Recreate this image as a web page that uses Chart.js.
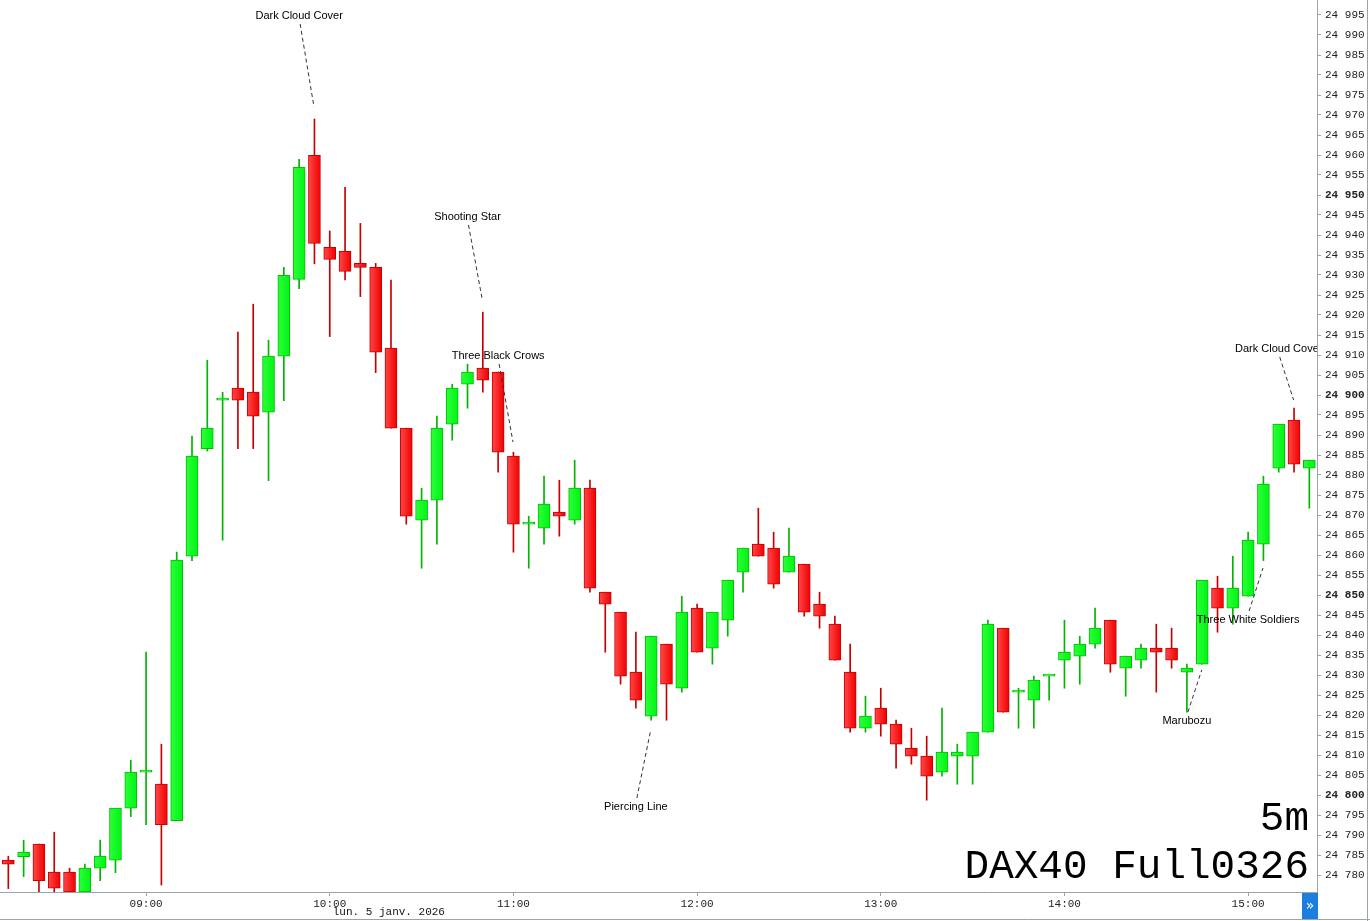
<!DOCTYPE html>
<html>
<head>
<meta charset="utf-8">
<script src="https://cdn.jsdelivr.net/npm/chart.js@4.4.1/dist/chart.umd.min.js"></script>
<style>
  html, body { margin: 0; padding: 0; background: #fff; }
  #dax { display: block; }
</style>
</head>
<body>
<canvas id="dax" width="1370" height="921"></canvas>
<script>
// DAX40 5m candles, 08:15 -> 15:20 (one entry per candle)
const opens = [
  24783.7, 24784.6, 24787.7, 24780.7, 24780.7, 24775.8, 24781.7, 24783.7, 24796.7, 24805.7,
  24802.7, 24793.6, 24859.7, 24886.6, 24898.7, 24901.7, 24900.7, 24895.7, 24909.7, 24928.9,
  24959.9, 24936.9, 24935.9, 24932.9, 24931.9, 24911.7, 24891.7, 24868.7, 24873.7, 24892.7,
  24902.7, 24906.7, 24905.7, 24884.7, 24867.7, 24866.7, 24870.7, 24868.7, 24876.7, 24850.7,
  24845.7, 24830.7, 24819.7, 24837.7, 24826.7, 24846.7, 24836.7, 24843.7, 24855.7, 24862.7,
  24861.7, 24855.7, 24857.7, 24847.7, 24842.7, 24830.7, 24816.7, 24821.7, 24817.7, 24811.7,
  24809.7, 24805.7, 24809.7, 24809.7, 24815.7, 24841.7, 24825.7, 24823.7, 24829.7, 24833.7,
  24834.7, 24837.7, 24843.7, 24831.7, 24833.7, 24836.7, 24836.7, 24830.7, 24832.7, 24851.7,
  24846.7, 24849.7, 24862.7, 24881.7, 24893.7, 24881.7
];
const highs = [
  24784.7, 24788.7, 24787.7, 24790.7, 24781.7, 24782.7, 24788.7, 24796.7, 24808.7, 24835.7,
  24812.7, 24860.7, 24889.7, 24908.7, 24900.7, 24915.7, 24922.7, 24913.7, 24931.9, 24958.9,
  24969.0, 24941.0, 24951.9, 24942.9, 24932.9, 24928.7, 24891.7, 24876.7, 24894.7, 24902.7,
  24907.7, 24920.7, 24905.7, 24885.7, 24869.7, 24879.7, 24878.7, 24883.7, 24878.7, 24850.7,
  24845.7, 24840.7, 24839.7, 24837.7, 24849.7, 24847.7, 24845.7, 24853.7, 24861.7, 24871.7,
  24865.7, 24866.7, 24857.7, 24850.7, 24844.7, 24837.7, 24824.7, 24826.7, 24818.7, 24816.7,
  24814.7, 24821.7, 24812.7, 24815.7, 24843.7, 24841.7, 24826.7, 24829.7, 24829.7, 24843.7,
  24839.7, 24846.7, 24843.7, 24834.7, 24837.7, 24842.7, 24841.7, 24832.7, 24853.7, 24854.7,
  24859.7, 24865.7, 24879.7, 24892.7, 24896.7, 24883.7
];
const lows = [
  24776.6, 24779.6, 24775.8, 24775.5, 24775.8, 24775.8, 24778.6, 24780.6, 24794.6, 24792.6,
  24777.5, 24793.6, 24858.6, 24886.0, 24863.7, 24886.6, 24886.6, 24878.6, 24898.6, 24926.6,
  24932.8, 24914.6, 24928.8, 24924.6, 24905.6, 24891.7, 24867.7, 24856.7, 24862.7, 24888.7,
  24896.7, 24900.7, 24880.7, 24860.7, 24856.7, 24862.7, 24864.7, 24867.7, 24850.7, 24835.7,
  24827.7, 24821.7, 24818.7, 24818.7, 24825.7, 24835.7, 24832.7, 24839.7, 24850.7, 24859.7,
  24851.7, 24855.7, 24844.7, 24841.7, 24833.7, 24815.7, 24815.7, 24814.7, 24806.7, 24807.7,
  24798.7, 24804.7, 24802.7, 24802.7, 24815.7, 24820.7, 24816.7, 24816.7, 24823.7, 24826.7,
  24827.7, 24836.7, 24830.7, 24824.7, 24831.7, 24825.7, 24831.7, 24820.7, 24832.7, 24840.7,
  24842.7, 24849.7, 24858.6, 24880.7, 24880.7, 24871.7
];
const closes = [
  24782.7, 24785.7, 24778.6, 24776.7, 24775.8, 24781.7, 24784.7, 24796.7, 24805.7, 24805.7,
  24792.6, 24858.7, 24884.7, 24891.7, 24898.7, 24898.7, 24894.7, 24909.7, 24929.9, 24956.9,
  24937.9, 24933.9, 24930.9, 24931.9, 24910.7, 24891.7, 24869.7, 24873.7, 24891.7, 24901.7,
  24905.7, 24903.7, 24885.7, 24867.7, 24867.7, 24872.7, 24869.7, 24876.7, 24851.7, 24847.7,
  24829.7, 24823.7, 24839.7, 24827.7, 24845.7, 24835.7, 24845.7, 24853.7, 24861.7, 24859.7,
  24852.7, 24859.7, 24845.7, 24844.7, 24833.7, 24816.7, 24819.7, 24817.7, 24812.7, 24809.7,
  24804.7, 24810.7, 24810.7, 24815.7, 24842.7, 24820.7, 24825.7, 24828.7, 24829.7, 24835.7,
  24837.7, 24841.7, 24832.7, 24834.7, 24836.7, 24835.7, 24833.7, 24831.7, 24853.7, 24846.7,
  24851.7, 24863.7, 24877.7, 24892.7, 24882.7, 24883.7
];

// x axis: hour labels and the candle index they fall on
const hourLabels = ['09:00', '10:00', '11:00', '12:00', '13:00', '14:00', '15:00'];
const hourIndex = [9, 21, 33, 45, 57, 69, 81];

// detected patterns: candle index, price of the label, price the leader points to
const patterns = [
  { text: 'Dark Cloud Cover', idx: 20, labelPrice: 24994.75, tipPrice: 24972.0 },
  { text: 'Shooting Star', idx: 31, labelPrice: 24944.5, tipPrice: 24923.75 },
  { text: 'Three Black Crows', idx: 33, labelPrice: 24909.75, tipPrice: 24888.25 },
  { text: 'Piercing Line', idx: 42, labelPrice: 24797.0, tipPrice: 24816.25 },
  { text: 'Marubozu', idx: 78, labelPrice: 24818.5, tipPrice: 24831.25 },
  { text: 'Three White Soldiers', idx: 82, labelPrice: 24843.75, tipPrice: 24856.75 },
  { text: 'Dark Cloud Cover', idx: 84, labelPrice: 24911.5, tipPrice: 24898.75 }
];

const symbolName = 'DAX40 Full0326';
const timeframe = '5m';
const dateLabel = 'lun. 5 janv. 2026';

const isUp = i => closes[i] >= opens[i];

// gradient fill of each body (lighter on the left side)
function bodyFill(context) {
  if (context.type !== 'data') return '#ff1010';
  const i = context.dataIndex;
  const up = isUp(i);
  const xs = context.chart.scales.x;
  const px = xs ? xs.getPixelForValue(i) : NaN;
  if (!isFinite(px)) return up ? '#08ff1c' : '#ff1010';
  const g = context.chart.ctx.createLinearGradient(px - 6, 0, px + 6, 0);
  if (up) {
    g.addColorStop(0, '#2cff3a');
    g.addColorStop(1, '#00f414');
  } else {
    g.addColorStop(0, '#ff4848');
    g.addColorStop(1, '#f00000');
  }
  return g;
}

const bodies = opens.map((o, i) => ({ x: i, y: [o, closes[i]] }));
const wicks = lows.map((l, i) => ({ x: i, y: [l, highs[i]] }));

const thousands = v => Math.round(v).toString().replace(/\B(?=(\d{3})+(?!\d))/g, ' ');

const decorPlugin = {
  id: 'decor',
  afterDraw(chart) {
    const c = chart.ctx;
    const xs = chart.scales.x;
    const ys = chart.scales.y;
    const area = chart.chartArea;

    // pattern labels with dashed leaders
    c.save();
    c.beginPath();
    c.rect(area.left, area.top, area.right - area.left, area.bottom - area.top);
    c.clip();
    c.font = '11px "Liberation Sans", Arial, sans-serif';
    c.textAlign = 'center';
    c.textBaseline = 'middle';
    patterns.forEach(p => {
      const tx = xs.getPixelForValue(p.idx - 1);
      const ty = ys.getPixelForValue(p.labelPrice);
      const ex = xs.getPixelForValue(p.idx - 0.03);
      const ey = ys.getPixelForValue(p.tipPrice);
      const below = ey < ty;
      c.fillStyle = '#000';
      c.fillText(p.text, tx, ty);
      c.strokeStyle = '#333';
      c.lineWidth = 1;
      c.setLineDash([4, 3]);
      c.beginPath();
      c.moveTo(tx + 1, below ? ty - 9 : ty + 8);
      c.lineTo(ex, ey);
      c.stroke();
    });
    c.restore();

    // symbol + timeframe watermark
    c.save();
    c.fillStyle = '#000';
    c.textAlign = 'right';
    c.textBaseline = 'alphabetic';
    c.font = '41px "Liberation Mono", "Courier New", monospace';
    c.fillText(timeframe, area.right - 8, 830);
    c.fillText(symbolName, area.right - 8, 878);

    // date under the time axis
    c.font = '11px "Liberation Mono", "Courier New", monospace';
    c.textAlign = 'left';
    c.textBaseline = 'middle';
    c.fillStyle = '#111';
    c.fillText(dateLabel, xs.getPixelForValue(21) + 3, 912);

    // outer frame
    c.strokeStyle = '#9aa4ac';
    c.lineWidth = 1;
    c.beginPath();
    c.moveTo(0, 919.5);
    c.lineTo(1370, 919.5);
    c.moveTo(1367.5, 0);
    c.lineTo(1367.5, 921);
    c.stroke();

    // scroll button
    c.fillStyle = '#1c7fe0';
    c.fillRect(1302, 893, 16, 26);
    c.fillStyle = '#fff';
    c.font = '14px "DejaVu Sans", sans-serif';
    c.textAlign = 'center';
    c.fillText('\u00bb', 1310, 906);
    c.restore();
  }
};

const ctx = document.getElementById('dax').getContext('2d');
const myChart = new Chart(ctx, {
  type: 'bar',
  data: {
    datasets: [
      {
        label: 'body',
        data: bodies,
        order: 1,
        grouped: false,
        barThickness: 12,
        minBarLength: 2,
        backgroundColor: bodyFill,
        borderColor: opens.map((o, i) => isUp(i) ? '#00c000' : '#c80000'),
        borderWidth: 1,
        borderSkipped: false
      },
      {
        label: 'wick',
        data: wicks,
        order: 2,
        grouped: false,
        barThickness: 1,
        backgroundColor: opens.map((o, i) => isUp(i) ? '#00b400' : '#c40000'),
        borderWidth: 0
      }
    ]
  },
  options: {
    responsive: false,
    animation: false,
    layout: { padding: 0 },
    plugins: {
      legend: { display: false },
      tooltip: { enabled: false }
    },
    scales: {
      x: {
        type: 'linear',
        min: -0.544,
        max: 85.5,
        offset: false,
        afterBuildTicks: scale => {
          scale.ticks = hourIndex.map(v => ({ value: v }));
        },
        afterFit: scale => {
          scale.height = 29;
          scale.paddingLeft = 0;
          scale.paddingRight = 0;
        },
        ticks: {
          autoSkip: false,
          maxRotation: 0,
          padding: 1,
          color: '#222',
          font: { family: '"Liberation Mono", "Courier New", monospace', size: 11 },
          callback: value => hourLabels[hourIndex.indexOf(value)]
        },
        grid: { drawOnChartArea: false, offset: false, tickLength: 4, color: '#9aa4ac' },
        border: { color: '#9aa4ac' }
      },
      y: {
        position: 'right',
        min: 24775.75,
        max: 24998.75,
        afterFit: scale => {
          scale.width = 53;
          scale.paddingTop = 0;
          scale.paddingBottom = 0;
        },
        ticks: {
          stepSize: 5,
          includeBounds: false,
          autoSkip: false,
          padding: 4,
          color: '#222',
          font: context => ({
            family: '"Liberation Mono", "Courier New", monospace',
            size: 11,
            weight: context.tick && context.tick.value % 50 === 0 ? 'bold' : 'normal'
          }),
          callback: value => thousands(value)
        },
        grid: { drawOnChartArea: false, tickLength: 4, color: '#9aa4ac' },
        border: { color: '#9aa4ac' }
      }
    }
  },
  plugins: [decorPlugin]
});
</script>
</body>
</html>
